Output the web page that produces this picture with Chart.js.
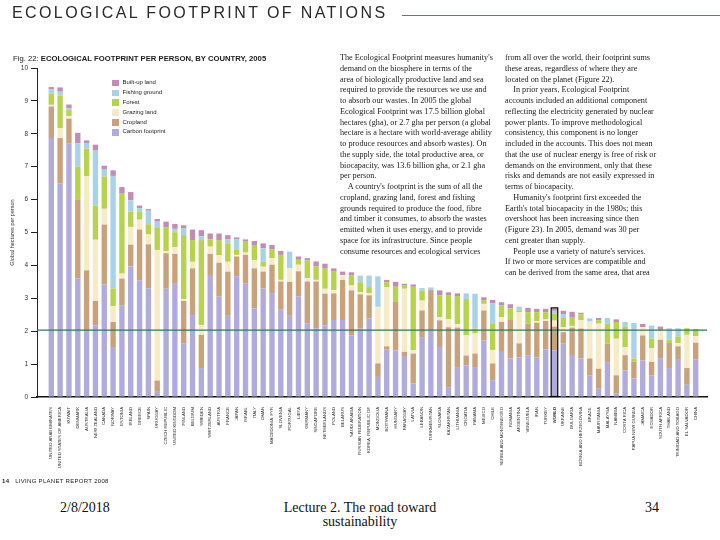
<!DOCTYPE html>
<html>
<head>
<meta charset="utf-8">
<script src="https://cdn.jsdelivr.net/npm/chart.js@4.4.1/dist/chart.umd.min.js"></script>
<style>
  body { margin: 0; width: 720px; height: 540px; overflow: hidden; background: #fff; position: relative; font-family: 'Liberation Sans', Arial, sans-serif; color: #222; }
  .abs { position: absolute; white-space: pre; }
  #chartBox { position: absolute; left: 0; top: 0; width: 720px; height: 480px; }
  #title { left: 12px; top: 5px; font-size: 16px; line-height: 16px; letter-spacing: 2.4px; color: #2a2a2a; }
  #redRule { position: absolute; left: 402px; top: 15px; width: 318px; height: 1px; background: #c0504d; }
  #fig { left: 13px; top: 55px; font-family: 'Liberation Sans Narrow', 'Liberation Sans', Arial, sans-serif; font-size: 7.7px; line-height: 8px; color: #222; }
  #fig b { font-weight: bold; }
  .col { font-family: 'Liberation Serif', 'Times New Roman', serif; font-size: 8.4px; line-height: 10.75px; color: #1a1a1a; transform: scaleX(0.98); transform-origin: left top; }
  #col1 { left: 340px; top: 53px; }
  #col2 { left: 505px; top: 53px; }
  #legend { position: absolute; left: 112px; top: 78px; font-size: 6px; line-height: 9.9px; color: #222; }
  #legend div { display: flex; align-items: center; height: 9.9px; }
  #legend span.sw { display: inline-block; width: 6.5px; height: 6.5px; margin-right: 4px; }
  #footer14 { left: 2px; top: 477px; font-size: 6px; line-height: 8px; letter-spacing: 0.3px; }
  .slide { font-family: 'Liberation Serif', 'Times New Roman', serif; font-size: 14px; line-height: 14px; color: #111; }
  #date { left: 60px; top: 501px; }
  #lecture { left: 270px; top: 501px; width: 180px; text-align: center; white-space: normal; }
  #page { left: 645px; top: 501px; }
</style>
</head>
<body>
<div id="chartBox"><canvas id="fp"></canvas></div>
<div id="title" class="abs">ECOLOGICAL FOOTPRINT OF NATIONS</div>
<div id="redRule"></div>
<div id="fig" class="abs">Fig. 22: <b>ECOLOGICAL FOOTPRINT PER PERSON, BY COUNTRY, 2005</b></div>
<div id="legend"></div>
<div id="col1" class="abs col">The Ecological Footprint measures humanity's
demand on the biosphere in terms of the
area of biologically productive land and sea
required to provide the resources we use and
to absorb our wastes. In 2005 the global
Ecological Footprint was 17.5 billion global
hectares (gha), or 2.7 gha per person (a global
hectare is a hectare with world-average ability
to produce resources and absorb wastes). On
the supply side, the total productive area, or
biocapacity, was 13.6 billion gha, or 2.1 gha
per person.
    A country's footprint is the sum of all the
cropland, grazing land, forest and fishing
grounds required to produce the food, fibre
and timber it consumes, to absorb the wastes
emitted when it uses energy, and to provide
space for its infrastructure. Since people
consume resources and ecological services</div>
<div id="col2" class="abs col">from all over the world, their footprint sums
these areas, regardless of where they are
located on the planet (Figure 22).
    In prior years, Ecological Footprint
accounts included an additional component
reflecting the electricity generated by nuclear
power plants. To improve methodological
consistency, this component is no longer
included in the accounts. This does not mean
that the use of nuclear energy is free of risk or
demands on the environment, only that these
risks and demands are not easily expressed in
terms of biocapacity.
    Humanity's footprint first exceeded the
Earth's total biocapacity in the 1980s; this
overshoot has been increasing since then
(Figure 23). In 2005, demand was 30 per
cent greater than supply.
    People use a variety of nature's services.
If two or more services are compatible and
can be derived from the same area, that area</div>
<div id="footer14" class="abs"><b>14</b>   LIVING PLANET REPORT 2008</div>
<div id="date" class="abs slide">2/8/2018</div>
<div id="lecture" class="abs slide">Lecture 2. The road toward sustainability</div>
<div id="page" class="abs slide">34</div>
<script>
const COUNTRIES = [
  'UNITED ARAB EMIRATES', 'UNITED STATES OF AMERICA', 'KUWAIT', 'DENMARK', 'AUSTRALIA', 'NEW ZEALAND',
  'CANADA', 'NORWAY', 'ESTONIA', 'IRELAND', 'GREECE', 'SPAIN', 'URUGUAY', 'CZECH REPUBLIC',
  'UNITED KINGDOM', 'FINLAND', 'BELGIUM', 'SWEDEN', 'SWITZERLAND', 'AUSTRIA', 'FRANCE', 'JAPAN',
  'ISRAEL', 'ITALY', 'OMAN', 'MACEDONIA, FYR', 'SLOVENIA', 'PORTUGAL', 'LIBYA', 'GERMANY',
  'SINGAPORE', 'NETHERLANDS', 'POLAND', 'BELARUS', 'SAUDI ARABIA', 'RUSSIAN FEDERATION',
  'KOREA, REPUBLIC OF', 'MONGOLIA', 'BOTSWANA', 'HUNGARY', 'PARAGUAY', 'LATVIA', 'LEBANON',
  'TURKMENISTAN', 'SLOVAKIA', 'KAZAKHSTAN', 'LITHUANIA', 'CROATIA', 'PANAMA', 'MEXICO', 'CHILE',
  'SERBIA AND MONTENEGRO', 'ROMANIA', 'ARGENTINA', 'VENEZUELA', 'IRAN', 'TURKEY', 'WORLD',
  'UKRAINE', 'BULGARIA', 'BOSNIA AND HERZEGOVINA', 'BRAZIL', 'MAURITANIA', 'MALAYSIA', 'NAMIBIA',
  'COSTA RICA', 'PAPUA NEW GUINEA', 'JAMAICA', 'ECUADOR', 'SOUTH AFRICA', 'THAILAND',
  'TRINIDAD AND TOBAGO', 'EL SALVADOR', 'CHINA'
];

// global hectares per person, one value per country
const CARBON = [
  7.87, 6.50, 7.71, 3.61, 1.98, 2.18, 3.42, 1.52, 2.79, 3.97, 3.55, 3.30, 0.18, 3.29, 3.44, 1.62,
  2.49, 0.88, 3.68, 3.05, 2.49, 3.67, 3.46, 2.69, 3.30, 3.16, 2.65, 2.49, 3.06, 2.24, 2.09, 2.18,
  2.34, 2.34, 1.87, 2.08, 2.38, 0.61, 1.44, 1.42, 1.22, 0.41, 1.82, 2.03, 1.52, 0.30, 0.91, 0.96,
  0.91, 1.72, 0.51, 1.37, 1.17, 1.20, 1.27, 1.20, 1.45, 1.42, 1.62, 1.25, 1.17, 0.66, 0.25, 1.06,
  0.10, 0.81, 0.56, 1.11, 0.66, 1.18, 0.88, 1.13, 0.37, 1.14
];
const CROPLAND = [
  0.96, 1.37, 0.75, 2.38, 1.87, 0.74, 1.82, 0.76, 0.81, 0.66, 1.54, 1.34, 0.32, 1.08, 0.91, 1.30,
  1.42, 1.01, 0.67, 1.03, 1.32, 0.60, 0.86, 1.22, 0.51, 0.86, 0.86, 1.01, 0.76, 1.27, 1.42, 0.96,
  0.81, 1.22, 1.37, 1.04, 0.71, 0.41, 0.10, 1.47, 0.15, 0.91, 0.81, 1.22, 0.81, 1.82, 1.20, 0.30,
  0.41, 0.91, 0.51, 0.91, 1.17, 0.43, 0.96, 1.06, 0.86, 0.72, 0.35, 0.86, 0.91, 0.51, 0.61, 0.56,
  0.56, 0.46, 0.51, 0.76, 0.41, 0.56, 0.76, 0.41, 0.51, 0.51
];
const GRAZING = [
  0.05, 0.30, 0.08, 0.00, 2.86, 1.86, 0.48, 0.48, 0.15, 0.54, 0.30, 0.30, 3.97, 0.06, 0.20, 0.05,
  0.20, 0.30, 0.22, 0.23, 0.30, 0.05, 0.07, 0.25, 0.15, 0.20, 0.05, 0.41, 0.20, 0.10, 0.05, 0.15,
  0.10, 0.15, 0.15, 0.07, 0.07, 1.72, 1.80, 0.00, 1.92, 0.10, 0.30, 0.00, 0.10, 0.25, 0.10, 0.61,
  0.61, 0.20, 0.41, 0.15, 0.00, 0.95, 0.00, 0.05, 0.05, 0.18, 0.15, 0.05, 0.25, 1.12, 1.37, 0.00,
  1.11, 0.25, 0.00, 0.25, 0.41, 0.30, 0.00, 0.10, 1.01, 0.20
];
const FOREST = [
  0.34, 0.99, 0.18, 1.01, 0.84, 1.04, 0.98, 0.54, 2.45, 0.46, 0.23, 0.31, 0.69, 0.73, 0.46, 1.95,
  0.66, 2.58, 0.22, 0.46, 0.56, 0.17, 0.33, 0.46, 0.15, 0.27, 0.76, 0.00, 0.15, 0.54, 0.41, 0.61,
  0.56, 0.00, 0.30, 0.30, 0.18, 0.00, 0.15, 0.46, 0.10, 1.93, 0.30, 0.00, 0.66, 0.71, 0.86, 1.11,
  0.15, 0.10, 0.81, 0.35, 0.35, 0.05, 0.35, 0.27, 0.22, 0.22, 0.30, 0.25, 0.18, 0.00, 0.10, 0.61,
  0.51, 0.61, 0.10, 0.00, 0.30, 0.00, 0.10, 0.20, 0.20, 0.22
];
const FISHING = [
  0.13, 0.12, 0.05, 0.71, 0.17, 1.67, 0.23, 3.42, 0.00, 0.35, 0.12, 0.41, 0.17, 0.00, 0.10, 0.20,
  0.00, 0.12, 0.00, 0.00, 0.12, 0.30, 0.00, 0.00, 0.41, 0.00, 0.00, 0.51, 0.00, 0.00, 0.00, 0.00,
  0.00, 0.00, 0.00, 0.20, 0.35, 0.93, 0.00, 0.00, 0.00, 0.00, 0.08, 0.08, 0.00, 0.00, 0.00, 0.17,
  1.06, 0.00, 0.61, 0.00, 0.00, 0.12, 0.00, 0.00, 0.00, 0.08, 0.10, 0.00, 0.00, 0.10, 0.00, 0.17,
  0.00, 0.15, 1.08, 0.00, 0.39, 0.00, 0.35, 0.25, 0.00, 0.00
];
const BUILT_UP = [
  0.07, 0.13, 0.12, 0.32, 0.08, 0.18, 0.10, 0.17, 0.18, 0.25, 0.08, 0.05, 0.08, 0.17, 0.15, 0.10,
  0.32, 0.18, 0.18, 0.20, 0.13, 0.06, 0.07, 0.12, 0.15, 0.13, 0.12, 0.00, 0.10, 0.07, 0.15, 0.15,
  0.10, 0.10, 0.10, 0.00, 0.00, 0.00, 0.07, 0.15, 0.05, 0.07, 0.00, 0.00, 0.15, 0.10, 0.08, 0.00,
  0.00, 0.10, 0.10, 0.10, 0.13, 0.00, 0.13, 0.10, 0.10, 0.07, 0.10, 0.18, 0.05, 0.00, 0.07, 0.00,
  0.08, 0.00, 0.00, 0.10, 0.00, 0.10, 0.00, 0.00, 0.00, 0.00
];

const Y_TICKS = [0, 1, 2, 3, 4, 5, 6, 7, 8, 9, 10];
const BIOCAPACITY = 2.03;   // world biocapacity per person, green rule
const WORLD_INDEX = COUNTRIES.indexOf('WORLD');

const SERIES = [
  { label: 'Carbon footprint', data: CARBON,   color: '#b1abdd' },
  { label: 'Cropland',         data: CROPLAND, color: '#c9a17b' },
  { label: 'Grazing land',     data: GRAZING,  color: '#f7ebc7' },
  { label: 'Forest',           data: FOREST,   color: '#b7d24b' },
  { label: 'Fishing ground',   data: FISHING,  color: '#a9d2ea' },
  { label: 'Built-up land',    data: BUILT_UP, color: '#c48cb5' }
];

// legend, top to bottom like the printed key
document.getElementById('legend').innerHTML = SERIES.slice().reverse().map(s =>
  `<div><span class="sw" style="background:${s.color}"></span>${s.label}</div>`).join('');

const overlay = {
  id: 'overlay',
  afterDatasetsDraw(chart) {
    const { ctx, chartArea, scales: { y } } = chart;
    const py = y.getPixelForValue(BIOCAPACITY);
    ctx.save();
    ctx.strokeStyle = '#2f7a56';
    ctx.lineWidth = 1.2;
    ctx.beginPath();
    ctx.moveTo(chartArea.left, py);
    ctx.lineTo(chartArea.right, py);
    ctx.stroke();

    // box round the world bar
    let top = Infinity, base = 0, x = 0, w = 0;
    chart.data.datasets.forEach((d, i) => {
      const el = chart.getDatasetMeta(i).data[WORLD_INDEX];
      if (!el) return;
      top = Math.min(top, el.y, el.base);
      base = Math.max(base, el.base);
      x = el.x; w = el.width;
    });
    ctx.strokeStyle = '#000';
    ctx.lineWidth = 1.2;
    ctx.strokeRect(x - w / 2 - 0.6, top - 0.6, w + 1.2, base - top + 0.6);
    ctx.restore();
  }
};

new Chart(document.getElementById('fp'), {
  type: 'bar',
  data: {
    labels: COUNTRIES.map((_, i) => i),
    datasets: SERIES.map(s => ({
      label: s.label,
      data: s.data,
      backgroundColor: s.color,
      borderWidth: 0,
      barPercentage: 0.78,
      categoryPercentage: 1
    }))
  },
  options: {
    responsive: true,
    maintainAspectRatio: false,
    animation: false,
    layout: { padding: { left: 0, top: 68, right: 13, bottom: 0 } },
    plugins: { legend: { display: false }, tooltip: { enabled: false } },
    scales: {
      x: {
        type: 'linear',
        stacked: true,
        min: -1.12,
        max: 73.78,
        afterFit(scale) { scale.height = 83; },
        grid: { display: false },
        border: { display: true, color: '#111', width: 1.5 },
        ticks: {
          stepSize: 1,
          autoSkip: false,
          maxTicksLimit: 200,
          minRotation: 90,
          maxRotation: 90,
          padding: 2,
          color: '#333',
          font: (c) => ({
            family: "'Liberation Sans', Arial, sans-serif",
            size: 4.3,
            weight: c.tick && c.tick.value === WORLD_INDEX ? 'bold' : 'normal'
          }),
          callback: (v) => COUNTRIES[v] ?? ''
        }
      },
      y: {
        stacked: true,
        min: 0,
        max: 10,
        afterFit(scale) { scale.width = 37; },
        afterBuildTicks(scale) { scale.ticks = Y_TICKS.map(v => ({ value: v })); },
        grid: { drawOnChartArea: false, drawTicks: true, tickLength: 6, color: '#222' },
        border: { display: true, color: '#222', width: 1 },
        ticks: { padding: 3, color: '#333', font: { family: "'Liberation Sans', Arial, sans-serif", size: 6.5 } },
        title: {
          display: true,
          text: 'Global hectares per person',
          color: '#333',
          padding: { top: 9, bottom: 0 },
          font: { family: "'Liberation Sans', Arial, sans-serif", size: 5.5 }
        }
      }
    }
  },
  plugins: [overlay]
});
</script>
</body>
</html>
